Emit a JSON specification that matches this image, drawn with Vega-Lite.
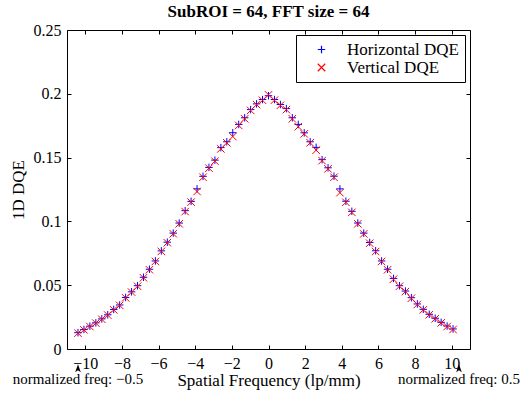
{
  "$schema": "https://vega.github.io/schema/vega-lite/v6.json",
  "width": 403,
  "height": 319,
  "autosize": {"type": "none"},
  "padding": {"left": 67, "top": 30, "right": 51, "bottom": 47},
  "background": "white",
  "title": {"text": "SubROI = 64, FFT size = 64", "font": "Liberation Serif", "fontSize": 17, "fontWeight": "bold", "color": "black", "anchor": "middle", "baseline": "top", "offset": 1},
  "datasets": {
    "dqe": [
      {"f": -10.4, "dqe": 0.0128, "s": "Horizontal DQE"},
      {"f": -10.075, "dqe": 0.0153, "s": "Horizontal DQE"},
      {"f": -9.75, "dqe": 0.0179, "s": "Horizontal DQE"},
      {"f": -9.425, "dqe": 0.0205, "s": "Horizontal DQE"},
      {"f": -9.1, "dqe": 0.0236, "s": "Horizontal DQE"},
      {"f": -8.775, "dqe": 0.0268, "s": "Horizontal DQE"},
      {"f": -8.45, "dqe": 0.0310, "s": "Horizontal DQE"},
      {"f": -8.125, "dqe": 0.0345, "s": "Horizontal DQE"},
      {"f": -7.8, "dqe": 0.0404, "s": "Horizontal DQE"},
      {"f": -7.475, "dqe": 0.0448, "s": "Horizontal DQE"},
      {"f": -7.15, "dqe": 0.0496, "s": "Horizontal DQE"},
      {"f": -6.825, "dqe": 0.0562, "s": "Horizontal DQE"},
      {"f": -6.5, "dqe": 0.0625, "s": "Horizontal DQE"},
      {"f": -6.175, "dqe": 0.0690, "s": "Horizontal DQE"},
      {"f": -5.85, "dqe": 0.0769, "s": "Horizontal DQE"},
      {"f": -5.525, "dqe": 0.0837, "s": "Horizontal DQE"},
      {"f": -5.2, "dqe": 0.0908, "s": "Horizontal DQE"},
      {"f": -4.875, "dqe": 0.0987, "s": "Horizontal DQE"},
      {"f": -4.55, "dqe": 0.1084, "s": "Horizontal DQE"},
      {"f": -4.225, "dqe": 0.1157, "s": "Horizontal DQE"},
      {"f": -3.9, "dqe": 0.1255, "s": "Horizontal DQE"},
      {"f": -3.575, "dqe": 0.1353, "s": "Horizontal DQE"},
      {"f": -3.25, "dqe": 0.1423, "s": "Horizontal DQE"},
      {"f": -2.925, "dqe": 0.1480, "s": "Horizontal DQE"},
      {"f": -2.6, "dqe": 0.1578, "s": "Horizontal DQE"},
      {"f": -2.275, "dqe": 0.1624, "s": "Horizontal DQE"},
      {"f": -1.95, "dqe": 0.1695, "s": "Horizontal DQE"},
      {"f": -1.625, "dqe": 0.1760, "s": "Horizontal DQE"},
      {"f": -1.3, "dqe": 0.1812, "s": "Horizontal DQE"},
      {"f": -0.975, "dqe": 0.1876, "s": "Horizontal DQE"},
      {"f": -0.65, "dqe": 0.1921, "s": "Horizontal DQE"},
      {"f": -0.325, "dqe": 0.1955, "s": "Horizontal DQE"},
      {"f": 0, "dqe": 0.1985, "s": "Horizontal DQE"},
      {"f": 0.325, "dqe": 0.1955, "s": "Horizontal DQE"},
      {"f": 0.65, "dqe": 0.1916, "s": "Horizontal DQE"},
      {"f": 0.975, "dqe": 0.1884, "s": "Horizontal DQE"},
      {"f": 1.3, "dqe": 0.1812, "s": "Horizontal DQE"},
      {"f": 1.625, "dqe": 0.1760, "s": "Horizontal DQE"},
      {"f": 1.95, "dqe": 0.1694, "s": "Horizontal DQE"},
      {"f": 2.275, "dqe": 0.1624, "s": "Horizontal DQE"},
      {"f": 2.6, "dqe": 0.1580, "s": "Horizontal DQE"},
      {"f": 2.925, "dqe": 0.1484, "s": "Horizontal DQE"},
      {"f": 3.25, "dqe": 0.1420, "s": "Horizontal DQE"},
      {"f": 3.575, "dqe": 0.1354, "s": "Horizontal DQE"},
      {"f": 3.9, "dqe": 0.1255, "s": "Horizontal DQE"},
      {"f": 4.225, "dqe": 0.1158, "s": "Horizontal DQE"},
      {"f": 4.55, "dqe": 0.1079, "s": "Horizontal DQE"},
      {"f": 4.875, "dqe": 0.0987, "s": "Horizontal DQE"},
      {"f": 5.2, "dqe": 0.0908, "s": "Horizontal DQE"},
      {"f": 5.525, "dqe": 0.0835, "s": "Horizontal DQE"},
      {"f": 5.85, "dqe": 0.0770, "s": "Horizontal DQE"},
      {"f": 6.175, "dqe": 0.0690, "s": "Horizontal DQE"},
      {"f": 6.5, "dqe": 0.0625, "s": "Horizontal DQE"},
      {"f": 6.825, "dqe": 0.0553, "s": "Horizontal DQE"},
      {"f": 7.15, "dqe": 0.0496, "s": "Horizontal DQE"},
      {"f": 7.475, "dqe": 0.0454, "s": "Horizontal DQE"},
      {"f": 7.8, "dqe": 0.0402, "s": "Horizontal DQE"},
      {"f": 8.125, "dqe": 0.0353, "s": "Horizontal DQE"},
      {"f": 8.45, "dqe": 0.0311, "s": "Horizontal DQE"},
      {"f": 8.775, "dqe": 0.0272, "s": "Horizontal DQE"},
      {"f": 9.1, "dqe": 0.0241, "s": "Horizontal DQE"},
      {"f": 9.425, "dqe": 0.0209, "s": "Horizontal DQE"},
      {"f": 9.75, "dqe": 0.0180, "s": "Horizontal DQE"},
      {"f": 10.075, "dqe": 0.0157, "s": "Horizontal DQE"},
      {"f": -10.4, "dqe": 0.0124, "s": "Vertical DQE"},
      {"f": -10.075, "dqe": 0.0150, "s": "Vertical DQE"},
      {"f": -9.75, "dqe": 0.0176, "s": "Vertical DQE"},
      {"f": -9.425, "dqe": 0.0203, "s": "Vertical DQE"},
      {"f": -9.1, "dqe": 0.0233, "s": "Vertical DQE"},
      {"f": -8.775, "dqe": 0.0266, "s": "Vertical DQE"},
      {"f": -8.45, "dqe": 0.0307, "s": "Vertical DQE"},
      {"f": -8.125, "dqe": 0.0342, "s": "Vertical DQE"},
      {"f": -7.8, "dqe": 0.0401, "s": "Vertical DQE"},
      {"f": -7.475, "dqe": 0.0446, "s": "Vertical DQE"},
      {"f": -7.15, "dqe": 0.0492, "s": "Vertical DQE"},
      {"f": -6.825, "dqe": 0.0558, "s": "Vertical DQE"},
      {"f": -6.5, "dqe": 0.0621, "s": "Vertical DQE"},
      {"f": -6.175, "dqe": 0.0686, "s": "Vertical DQE"},
      {"f": -5.85, "dqe": 0.0765, "s": "Vertical DQE"},
      {"f": -5.525, "dqe": 0.0833, "s": "Vertical DQE"},
      {"f": -5.2, "dqe": 0.0903, "s": "Vertical DQE"},
      {"f": -4.875, "dqe": 0.0981, "s": "Vertical DQE"},
      {"f": -4.55, "dqe": 0.1077, "s": "Vertical DQE"},
      {"f": -4.225, "dqe": 0.1151, "s": "Vertical DQE"},
      {"f": -3.9, "dqe": 0.1234, "s": "Vertical DQE"},
      {"f": -3.575, "dqe": 0.1346, "s": "Vertical DQE"},
      {"f": -3.25, "dqe": 0.1417, "s": "Vertical DQE"},
      {"f": -2.925, "dqe": 0.1472, "s": "Vertical DQE"},
      {"f": -2.6, "dqe": 0.1568, "s": "Vertical DQE"},
      {"f": -2.275, "dqe": 0.1616, "s": "Vertical DQE"},
      {"f": -1.95, "dqe": 0.1665, "s": "Vertical DQE"},
      {"f": -1.625, "dqe": 0.1752, "s": "Vertical DQE"},
      {"f": -1.3, "dqe": 0.1804, "s": "Vertical DQE"},
      {"f": -0.975, "dqe": 0.1870, "s": "Vertical DQE"},
      {"f": -0.65, "dqe": 0.1915, "s": "Vertical DQE"},
      {"f": -0.325, "dqe": 0.1949, "s": "Vertical DQE"},
      {"f": 0, "dqe": 0.1992, "s": "Vertical DQE"},
      {"f": 0.325, "dqe": 0.1950, "s": "Vertical DQE"},
      {"f": 0.65, "dqe": 0.1910, "s": "Vertical DQE"},
      {"f": 0.975, "dqe": 0.1876, "s": "Vertical DQE"},
      {"f": 1.3, "dqe": 0.1804, "s": "Vertical DQE"},
      {"f": 1.625, "dqe": 0.1742, "s": "Vertical DQE"},
      {"f": 1.95, "dqe": 0.1686, "s": "Vertical DQE"},
      {"f": 2.275, "dqe": 0.1616, "s": "Vertical DQE"},
      {"f": 2.6, "dqe": 0.1558, "s": "Vertical DQE"},
      {"f": 2.925, "dqe": 0.1476, "s": "Vertical DQE"},
      {"f": 3.25, "dqe": 0.1412, "s": "Vertical DQE"},
      {"f": 3.575, "dqe": 0.1346, "s": "Vertical DQE"},
      {"f": 3.9, "dqe": 0.1225, "s": "Vertical DQE"},
      {"f": 4.225, "dqe": 0.1150, "s": "Vertical DQE"},
      {"f": 4.55, "dqe": 0.1071, "s": "Vertical DQE"},
      {"f": 4.875, "dqe": 0.0981, "s": "Vertical DQE"},
      {"f": 5.2, "dqe": 0.0902, "s": "Vertical DQE"},
      {"f": 5.525, "dqe": 0.0829, "s": "Vertical DQE"},
      {"f": 5.85, "dqe": 0.0764, "s": "Vertical DQE"},
      {"f": 6.175, "dqe": 0.0686, "s": "Vertical DQE"},
      {"f": 6.5, "dqe": 0.0621, "s": "Vertical DQE"},
      {"f": 6.825, "dqe": 0.0547, "s": "Vertical DQE"},
      {"f": 7.15, "dqe": 0.0492, "s": "Vertical DQE"},
      {"f": 7.475, "dqe": 0.0450, "s": "Vertical DQE"},
      {"f": 7.8, "dqe": 0.0398, "s": "Vertical DQE"},
      {"f": 8.125, "dqe": 0.0349, "s": "Vertical DQE"},
      {"f": 8.45, "dqe": 0.0307, "s": "Vertical DQE"},
      {"f": 8.775, "dqe": 0.0268, "s": "Vertical DQE"},
      {"f": 9.1, "dqe": 0.0237, "s": "Vertical DQE"},
      {"f": 9.425, "dqe": 0.0205, "s": "Vertical DQE"},
      {"f": 9.75, "dqe": 0.0176, "s": "Vertical DQE"},
      {"f": 10.075, "dqe": 0.0153, "s": "Vertical DQE"}
    ],
    "notes": [
      {"f": -10.4, "label": "normalized freq: −0.5"},
      {"f": 10.4, "label": "normalized freq: 0.5"}
    ]
  },
  "layer": [
    {
      "data": {"name": "dqe"},
      "mark": {"type": "point", "filled": false, "strokeWidth": 1, "size": 56, "opacity": 1},
      "encoding": {
        "x": {"field": "f", "type": "quantitative", "scale": {"domain": [-11, 11], "nice": false, "zero": false},
          "axis": {"orient": "bottom", "values": [-10, -8, -6, -4, -2, 0, 2, 4, 6, 8, 10], "format": "d", "title": "Spatial Frequency (lp/mm)", "tickSize": -4, "labelPadding": 10, "titlePadding": 1}},
        "y": {"field": "dqe", "type": "quantitative", "scale": {"domain": [0, 0.25], "nice": false, "zero": false},
          "axis": {"orient": "left", "values": [0, 0.05, 0.1, 0.15, 0.2, 0.25], "format": "~g", "title": "1D DQE", "tickSize": -4, "labelPadding": 10, "titlePadding": 6}},
        "color": {"field": "s", "type": "nominal", "scale": {"domain": ["Horizontal DQE", "Vertical DQE"], "range": ["#0000ff", "#ff0000"]}, "legend": {"title": null}},
        "shape": {"field": "s", "type": "nominal", "scale": {"domain": ["Horizontal DQE", "Vertical DQE"], "range": ["M-1,0H1M0,-1V1", "M-1,-1L1,1M-1,1L1,-1"]}, "legend": {"title": null}}
      }
    },
    {
      "data": {"name": "dqe"},
      "mark": {"type": "point", "opacity": 0},
      "encoding": {
        "x": {"field": "f", "type": "quantitative", "axis": {"orient": "top", "values": [-10, -8, -6, -4, -2, 0, 2, 4, 6, 8, 10], "labels": false, "title": null, "tickSize": -4, "minExtent": 0, "maxExtent": 0}},
        "y": {"field": "dqe", "type": "quantitative", "axis": {"orient": "right", "values": [0, 0.05, 0.1, 0.15, 0.2, 0.25], "labels": false, "title": null, "tickSize": -4, "minExtent": 0, "maxExtent": 0}}
      }
    },
    {
      "data": {"name": "notes"},
      "mark": {"type": "point", "shape": "M0,-1L0.7,1L0,0.5L-0.7,1Z", "filled": true, "color": "black", "size": 64, "opacity": 1},
      "encoding": {
        "x": {"field": "f", "type": "quantitative", "axis": null},
        "y": {"datum": -0.0151, "type": "quantitative", "axis": null}
      }
    },
    {
      "data": {"name": "notes"},
      "mark": {"type": "text", "font": "Liberation Serif", "fontSize": 15, "align": "center", "baseline": "middle", "color": "black"},
      "encoding": {
        "x": {"field": "f", "type": "quantitative", "axis": null},
        "y": {"datum": -0.0235, "type": "quantitative", "axis": null},
        "text": {"field": "label"}
      }
    }
  ],
  "config": {
    "view": {"stroke": "black", "strokeWidth": 1},
    "axis": {"grid": false, "domain": false, "tickColor": "black", "tickWidth": 1, "labelFont": "Liberation Serif", "labelFontSize": 16, "labelColor": "black", "titleFont": "Liberation Serif", "titleFontSize": 17, "titleFontWeight": "normal", "titleColor": "black", "labelFlush": false, "labelOverlap": false},
    "legend": {"orient": "top-right", "offset": 5, "strokeColor": "black", "fillColor": "white", "padding": 6, "labelFont": "Liberation Serif", "labelFontSize": 17, "labelColor": "black", "symbolOffset": 11, "labelOffset": 17, "rowPadding": 0, "symbolStrokeWidth": 1.2, "symbolSize": 56, "cornerRadius": 0, "strokeWidth": 1}
  }
}
